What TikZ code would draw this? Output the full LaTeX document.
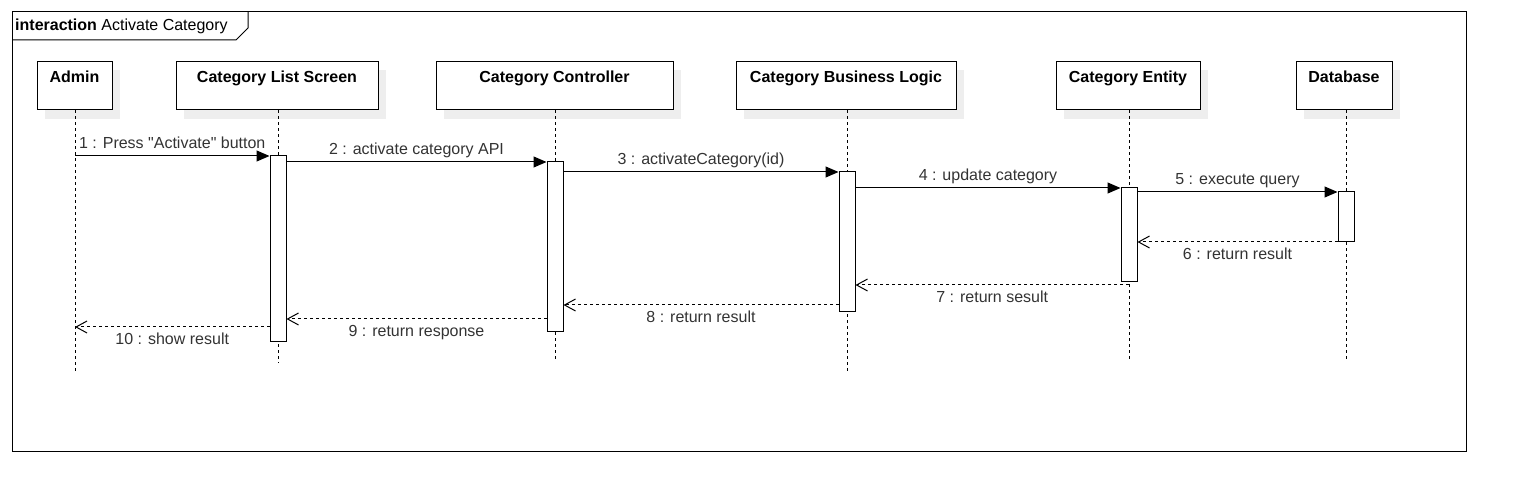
\documentclass[tikz,border=0pt]{standalone}
\usepackage{fontspec}
\setmainfont{Liberation Sans}[Ligatures=TeXOff]
\usetikzlibrary{arrows.meta}
\definecolor{shadowgray}{HTML}{EEEEEE}
\definecolor{labelgray}{HTML}{333333}
\begin{document}
\begin{tikzpicture}[x=1pt,y=-1pt,
  every node/.style={font=\fontsize{16}{19}\selectfont},
  partbox/.style={draw=black,line width=1pt,fill=white,inner sep=0pt,minimum height=48pt},
  ptitle/.style={anchor=base,inner sep=0pt,font=\fontsize{16}{19}\selectfont\bfseries},
  actbox/.style={draw=black,line width=1pt,fill=white,inner sep=0pt,minimum width=16pt},
  lifeline/.style={line width=1pt,dash pattern=on 3pt off 3pt},
  callmsg/.style={line width=1pt,-{Triangle[length=13pt,width=11pt]}},
  retmsg/.style={line width=1pt,dash pattern=on 3pt off 3pt,-{Straight Barb[length=11pt,width=12pt,line width=1pt]}},
  lblabove/.style={midway,anchor=base,yshift=7.5pt,inner sep=0pt,text=labelgray},
  lblbelow/.style={midway,anchor=base,yshift=-17.5pt,inner sep=0pt,text=labelgray},
  framestyle/.style={draw=black,line width=1pt}
]
\useasboundingbox (0,0) rectangle (1516,502);

% frame
\draw[framestyle] (12,12) rectangle (1466,452);
\draw[framestyle] (12,40) -- (236,40) -- (248,28) -- (248,12);
\node[anchor=base west,inner sep=0pt] (title) at (15,31) {\textbf{interaction} Activate Category};

% participant boxes (with shadows)
\foreach \nm/\xa/\xb in {admin/37/112, cls/176/378, ctrl/436/673, bl/736/956, ent/1056/1200, db/1296/1392}{
  \fill[shadowgray] (\xa+8,70) rectangle (\xb+8,119);
}
\node[partbox,minimum width=75pt]  (admin) at (74.5,86) {};
\node[partbox,minimum width=202pt] (cls)   at (277,86) {};
\node[partbox,minimum width=237pt] (ctrl)  at (554.5,86) {};
\node[partbox,minimum width=220pt] (bl)    at (846,86) {};
\node[partbox,minimum width=144pt] (ent)   at (1128,86) {};
\node[partbox,minimum width=96pt]  (db)    at (1344,86) {};

\node[ptitle] (tadmin) at ([yshift=-21pt]admin.north) {Admin};
\node[ptitle] (tcls)   at ([yshift=-21pt]cls.north) {Category List Screen};
\node[ptitle] (tctrl)  at ([yshift=-21pt]ctrl.north) {Category Controller};
\node[ptitle] (tbl)    at ([yshift=-21pt]bl.north) {Category Business Logic};
\node[ptitle] (tent)   at ([yshift=-21pt]ent.north) {Category Entity};
\node[ptitle] (tdb)    at ([yshift=-21pt]db.north) {Database};

% lifeline ends
\coordinate (eadmin) at (75,372);
\coordinate (ecls)   at (278,363);
\coordinate (ectrl)  at (555,362);
\coordinate (ebl)    at (847,372);
\coordinate (eent)   at (1129,362);
\coordinate (edb)    at (1346,362);

\draw[lifeline] (admin.south -| eadmin) -- (eadmin);
\draw[lifeline] (cls.south -| ecls) -- (ecls);
\draw[lifeline] (ctrl.south -| ectrl) -- (ectrl);
\draw[lifeline] (bl.south -| ebl) -- (ebl);
\draw[lifeline] (ent.south -| eent) -- (eent);
\draw[lifeline] (db.south -| edb) -- (edb);

% activations
\node[actbox,minimum height=186pt] (acls)  at (278,249) {};
\node[actbox,minimum height=170pt] (actrl) at (555,247) {};
\node[actbox,minimum height=140pt] (abl)   at (847,242) {};
\node[actbox,minimum height=94pt]  (aent)  at (1129,235) {};
\node[actbox,minimum height=50pt]  (adb)   at (1346,217) {};

% message rows
\coordinate (m1) at (75,156);
\coordinate (m2) at (0,162);
\coordinate (m3) at (0,172);
\coordinate (m4) at (0,188);
\coordinate (m5) at (0,192);
\coordinate (m6) at (0,242);
\coordinate (m7) at (1129,285);
\coordinate (m8) at (0,305);
\coordinate (m9) at (0,319);
\coordinate (m10) at (0,327);

\draw[callmsg] (m1) -- (m1 -| acls.west) node[lblabove] {1 : Press "Activate" button};
\draw[callmsg] (m2 -| acls.east) -- (m2 -| actrl.west) node[lblabove] {2 : activate category API};
\draw[callmsg] (m3 -| actrl.east) -- (m3 -| abl.west) node[lblabove] {3 : activateCategory(id)};
\draw[callmsg] (m4 -| abl.east) -- (m4 -| aent.west) node[lblabove] {4 : update category};
\draw[callmsg] (m5 -| aent.east) -- (m5 -| adb.west) node[lblabove] {5 : execute query};

\draw[retmsg] (m6 -| adb.west) -- (m6 -| aent.east) node[lblbelow] {6 : return result};
\draw[retmsg] (m7) -- (m7 -| abl.east) node[lblbelow] {7 : return sesult};
\draw[retmsg] (m8 -| abl.west) -- (m8 -| actrl.east) node[lblbelow] {8 : return result};
\draw[retmsg] (m9 -| actrl.west) -- (m9 -| acls.east) node[lblbelow] {9 : return response};
\draw[retmsg] (m10 -| acls.west) -- (m10 -| eadmin) node[lblbelow] {10 : show result};
\end{tikzpicture}
\end{document}
